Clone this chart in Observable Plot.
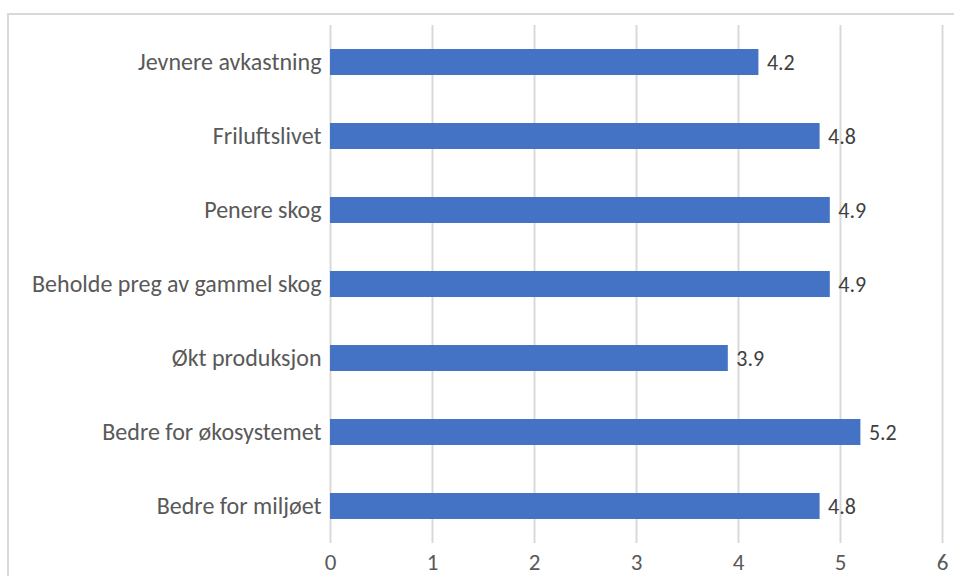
<!DOCTYPE html>
<html>
<head>
<meta charset="utf-8">
<script src="https://cdn.jsdelivr.net/npm/d3@7"></script>
<script src="https://cdn.jsdelivr.net/npm/@observablehq/plot@0.6"></script>
<style>
  html, body { margin: 0; padding: 0; background: #fff; }
  #wrap { position: relative; width: 954px; height: 576px; overflow: hidden; }
  #frame { position: absolute; left: 7px; top: 13px; width: 960px; height: 600px; border: 2px solid #d9d9d9; box-sizing: border-box; }
  #chart { position: absolute; left: 0; top: 0; }
</style>
</head>
<body>
<div id="wrap"><div id="frame"></div><div id="chart"></div></div>
<script>
const categories = ["Jevnere avkastning", "Friluftslivet", "Penere skog", "Beholde preg av gammel skog", "Økt produksjon", "Bedre for økosystemet", "Bedre for miljøet"];
const values = [4.2, 4.8, 4.9, 4.9, 3.9, 5.2, 4.8];
const xTicks = [0, 1, 2, 3, 4, 5, 6];

const data = categories.map((c, i) => ({category: c, value: values[i]}));
const font = "Carlito, Calibri, 'Open Sans', sans-serif";

const chart = Plot.plot({
  width: 954,
  height: 576,
  marginLeft: 330,
  marginRight: 12,
  marginTop: 25,
  marginBottom: 33,
  style: {fontFamily: font, fontSize: "23px", color: "#595959", background: "transparent"},
  x: {domain: [0, 6], label: null},
  y: {domain: categories, label: null, paddingInner: 0.649, paddingOuter: 0.3245},
  marks: [
    Plot.gridX(xTicks, {stroke: "#d9d9d9", strokeOpacity: 1, strokeWidth: 2}),
    Plot.axisX(xTicks, {tickSize: 0, tickPadding: 10, tickFormat: d3.format("d"), fontSize: 23, fill: "#595959", label: null}),
    Plot.axisY(categories, {tickSize: 0, tickPadding: 9, fontSize: 24, fill: "#595959", label: null}),
    Plot.barX(data, {x: "value", y: "category", fill: "#4472C4"}),
    Plot.text(data, {x: "value", y: "category", text: d => d.value.toFixed(1), textAnchor: "start", dx: 8, fill: "#404040", fontSize: 22})
  ]
});
document.getElementById("chart").appendChild(chart);
</script>
</body>
</html>
